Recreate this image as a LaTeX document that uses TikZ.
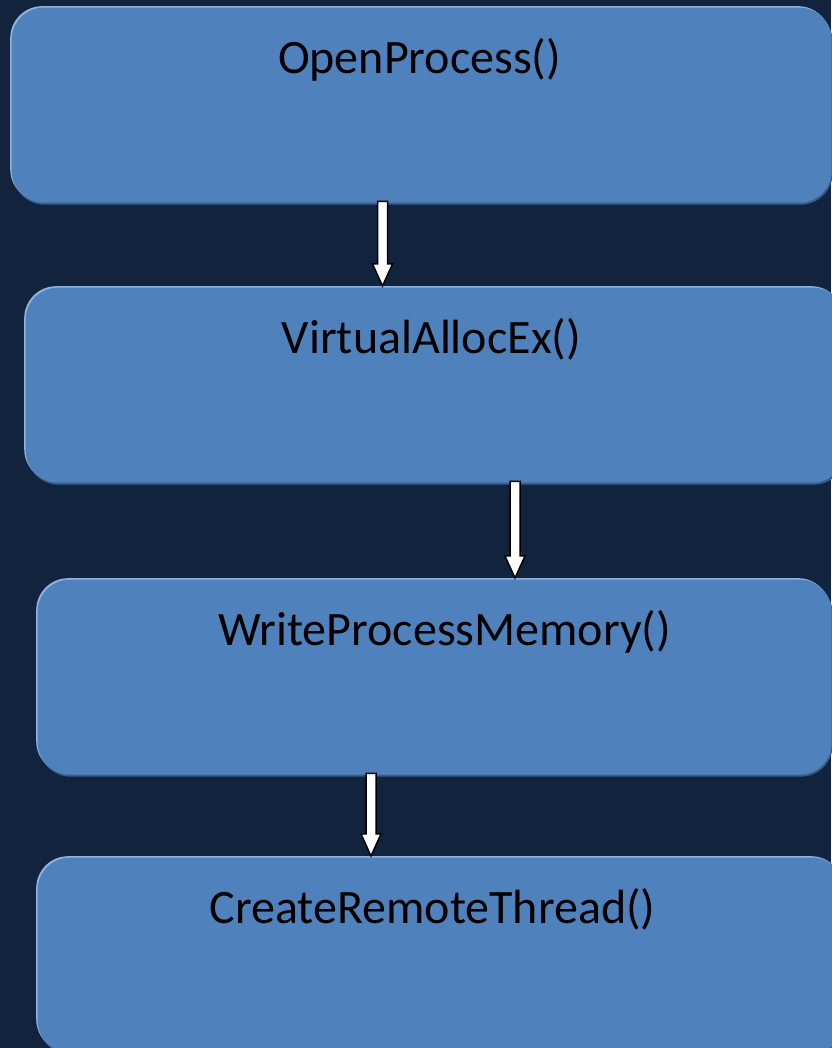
\documentclass[tikz,border=0pt]{standalone}
\usepackage{fontspec}
\setmainfont{Carlito}
\usetikzlibrary{calc}
\definecolor{bg}{HTML}{11233D}
\definecolor{boxmain}{HTML}{4F81BD}
\definecolor{boxlight}{HTML}{8FB2DE}
\definecolor{boxshadow}{HTML}{385D8A}
\newcommand\blockarr[2]{\draw[blockarrow] let \p1=(#1), \p2=(#2) in
  (\x1-5pt,\y1) -- (\x1-5pt,\y2+22pt) -- (\x1-10pt,\y2+22pt) -- (\x1,\y2)
  -- (\x1+10pt,\y2+22pt) -- (\x1+5pt,\y2+22pt) -- (\x1+5pt,\y1) -- cycle;}
\begin{document}
\begin{tikzpicture}[x=1pt,y=1pt,
  box/.style={rectangle, rounded corners=32pt, inner sep=0pt, anchor=north west,
    fill=boxlight,
    preaction={fill=boxshadow, transform canvas={shift={(2.5pt,-3.5pt)}}},
    postaction={fill=boxmain, transform canvas={shift={(1.5pt,-1.5pt)}}}},
  lbl/.style={font=\fontsize{48}{58}\selectfont, anchor=base, text=black, inner sep=0pt},
  blockarrow/.style={fill=white, draw=black, line width=1.5pt, line join=miter}]
\fill[bg] (0,0) rectangle (831,1048);
\useasboundingbox (0,0) rectangle (831,1048);
\node[box, minimum width=820pt, minimum height=195pt] (b1) at (10,1042) {};
\node[box, minimum width=819pt, minimum height=195pt] (b2) at (24,762) {};
\node[box, minimum width=794pt, minimum height=195pt] (b3) at (36,470) {};
\node[box, minimum width=807pt, minimum height=195pt] (b4) at (36,192) {};
\node[lbl] (t1) at (419.5,974) {OpenProcess()};
\node[lbl] (t2) at (431.5,694) {VirtualAllocEx()};
\node[lbl] (t3) at (444.5,402) {WriteProcessMemory()};
\node[lbl] (t4) at (432.5,124) {CreateRemoteThread()};
\blockarr{382.5,0 |- b1.south}{382.5,0 |- b2.north}
\blockarr{515,0 |- b2.south}{515,0 |- b3.north}
\blockarr{371,0 |- b3.south}{371,0 |- b4.north}
\end{tikzpicture}
\end{document}
